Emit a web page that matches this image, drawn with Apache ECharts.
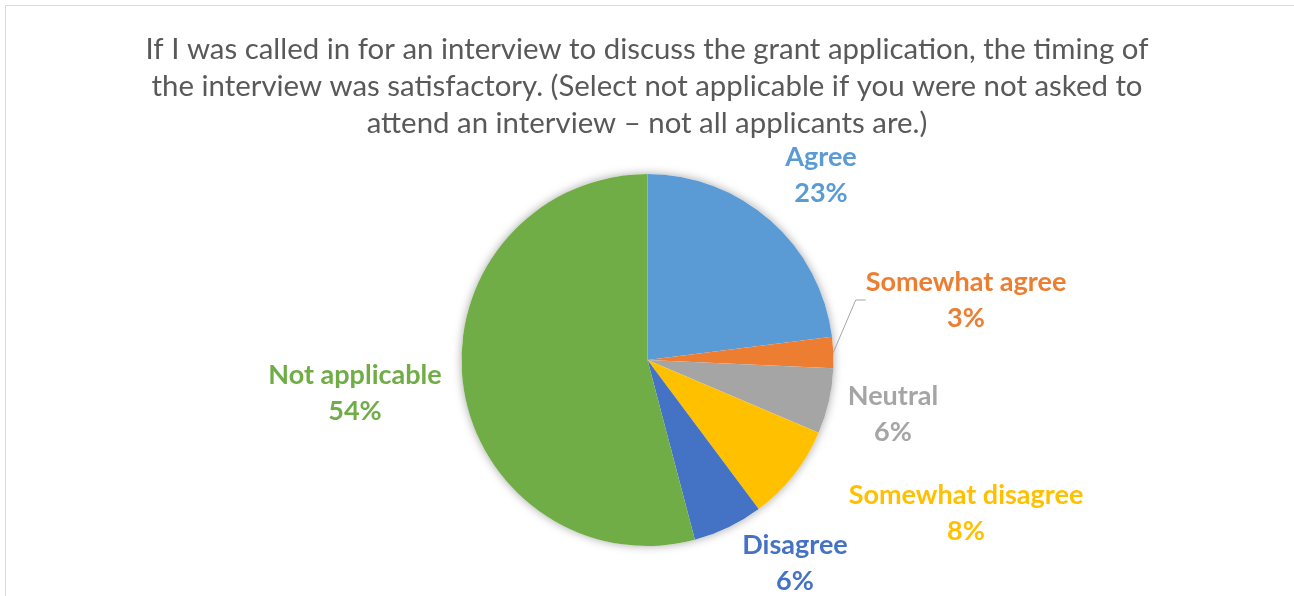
<!DOCTYPE html>
<html>
<head>
<meta charset="utf-8">
<script src="https://cdn.jsdelivr.net/npm/echarts@6/dist/echarts.min.js"></script>
<style>
  html, body { margin: 0; padding: 0; background: #fff; }
  #main { width: 1294px; height: 596px; }
</style>
</head>
<body>
<div id="main"></div>
<script>
var titleText = 'If I was called in for an interview to discuss the grant application, the timing of\nthe interview was satisfactory. (Select not applicable if you were not asked to\nattend an interview \u2013 not all applicants are.)';
var categories = ['Agree', 'Somewhat agree', 'Neutral', 'Somewhat disagree', 'Disagree', 'Not applicable'];
var values = [23.0, 2.7, 5.7, 8.4, 6.1, 54.1];   // percent
var colors = ['#5B9BD5', '#ED7D31', '#A5A5A5', '#FFC000', '#4472C4', '#70AD47'];
// where Excel put each data label (centre of the text block)
var labelSpots = [[821, 175], [966, 300], [893, 414], [966, 513], [795, 563], [355, 393]];

var myChart = echarts.init(document.getElementById('main'));

var pieData = categories.map(function (c, i) {
  return {
    name: c,
    value: values[i],
    itemStyle: { color: colors[i] },
    label: { color: colors[i] },
    labelLine: { show: i === 1 }
  };
});

myChart.setOption({
  animation: false,
  title: {
    text: titleText,
    left: 'center',
    top: 26,
    textStyle: {
      fontFamily: 'Lato',
      fontSize: 29.4,
      fontWeight: 'normal',
      lineHeight: 37,
      color: '#595959'
    }
  },
  graphic: [{
    type: 'rect',
    shape: { x: 5.5, y: 5.5, width: 1400, height: 700 },
    style: { fill: 'none', stroke: '#d9d9d9', lineWidth: 1 },
    silent: true
  }],
  series: [{
    // soft shadow behind the pie
    type: 'pie',
    silent: true,
    center: [647.5, 360],
    radius: 186,
    data: [{ value: 1, name: '' }],
    itemStyle: { color: '#fff', shadowBlur: 10, shadowColor: 'rgba(0,0,0,0.35)' },
    label: { show: false },
    labelLine: { show: false },
    z: 1
  }, {
    type: 'pie',
    center: [647.5, 360],
    radius: 186,
    startAngle: 90,
    clockwise: true,
    z: 2,
    data: pieData,
    label: {
      show: true,
      position: 'outside',
      formatter: function (p) { return p.name + '\n' + Math.round(p.value) + '%'; },
      fontFamily: 'Lato',
      fontSize: 27,
      fontWeight: 'bold',
      lineHeight: 36,
      align: 'center'
    },
    labelLine: {
      length: 10,
      length2: 10,
      lineStyle: { color: '#a6a6a6', width: 1 }
    },
    labelLayout: function (p) {
      var s = labelSpots[p.dataIndex];
      return { x: s[0], y: s[1], align: 'center', verticalAlign: 'middle' };
    }
  }]
});
</script>
</body>
</html>
